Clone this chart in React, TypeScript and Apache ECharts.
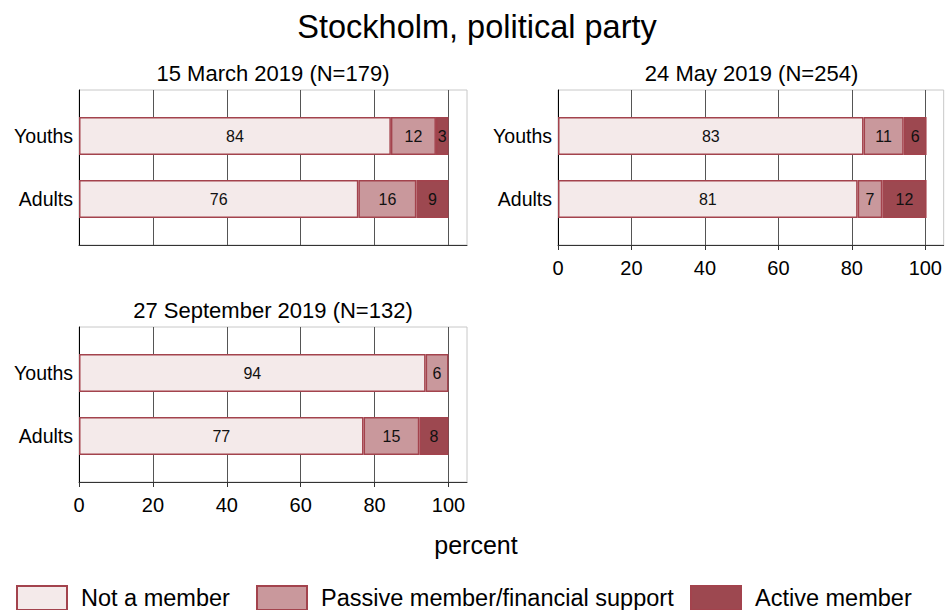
import React, { useEffect, useRef } from "react";
import * as echarts from "echarts";

const mainTitle = "Stockholm, political party";
const panelTitles = ["15 March 2019 (N=179)", "24 May 2019 (N=254)", "27 September 2019 (N=132)"];
const groups = ["Youths", "Adults"];
const levels = ["Not a member", "Passive member/financial support", "Active member"];
const xTicks = [0, 20, 40, 60, 80, 100];
const xTitle = "percent";

// percentages per panel: [Youths, Adults]; labels show rounded values
const notMember = [[84.4, 75.6], [82.9, 81.3], [93.8, 77.0]];
const passive = [[12.2, 15.7], [10.9, 6.7], [6.2, 15.1]];
const active = [[3.4, 8.7], [6.2, 12.0], [0, 7.9]];

const fills = ["#f4eaea", "#c9989c", "#9d4850"];
const border = "#a3434d";
const FONT = "Liberation Sans";

// layout of the three panels (pixel boxes)
const panels = [
  { left: 79, top: 90, width: 388, height: 155, ticks: false },
  { left: 558, top: 90, width: 387, height: 155, ticks: true },
  { left: 79, top: 327, width: 388, height: 155, ticks: true },
];

export default function App() {
  const ref = useRef<HTMLDivElement>(null);
  useEffect(() => {
    document.body.style.margin = "0";
    const chart = echarts.init(ref.current!, null, { renderer: "svg" });
    const valueSets = [notMember, passive, active];

    const grid: any[] = [];
    const xAxis: any[] = [];
    const yAxis: any[] = [];
    const series: any[] = [];
    const title: any[] = [
      {
        text: mainTitle,
        left: 477,
        top: 10,
        padding: 0,
        textAlign: "center",
        textStyle: { fontFamily: FONT, fontSize: 32.5, fontWeight: "normal", color: "#000" },
      },
      {
        text: xTitle,
        left: 476,
        top: 532,
        padding: 0,
        textAlign: "center",
        textStyle: { fontFamily: FONT, fontSize: 25, fontWeight: "normal", color: "#000" },
      },
    ];

    panels.forEach((p, i) => {
      grid.push({
        left: p.left,
        top: p.top,
        width: p.width,
        height: p.height,
        show: true,
        borderColor: "#c8c8c8",
        borderWidth: 1,
        containLabel: false,
      });
      title.push({
        text: panelTitles[i],
        left: p.left + p.width / 2,
        top: p.top - 28,
        padding: 0,
        textAlign: "center",
        textStyle: { fontFamily: FONT, fontSize: 22, fontWeight: "normal", color: "#000" },
      });
    });
    panels.forEach((p) => {
      grid.push({
        left: p.left,
        top: p.top + 14.5,
        width: p.width,
        height: 126,
      });
    });

    panels.forEach((p, i) => {
      xAxis.push({
        type: "value",
        gridIndex: i,
        min: 0,
        max: 105,
        position: "bottom",
        axisLine: { show: true, onZero: false, lineStyle: { color: "#333", width: 1 } },
        axisTick: { show: p.ticks, customValues: xTicks, length: 5, lineStyle: { color: "#333" } },
        axisLabel: {
          show: p.ticks,
          customValues: xTicks,
          fontFamily: FONT,
          fontSize: 20,
          color: "#000",
          margin: 13,
        },
        splitLine: { show: false },
      });
      xAxis.push({
        type: "value",
        gridIndex: i,
        min: 0,
        max: 105,
        interval: 20,
        position: "bottom",
        axisLine: { show: false },
        axisTick: { show: false },
        axisLabel: { show: false },
        splitLine: {
          show: true,
          showMinLine: false,
          showMaxLine: false,
          lineStyle: { color: "#555", width: 1 },
        },
      });
      yAxis.push({
        type: "value",
        gridIndex: i,
        min: 0,
        max: 1,
        position: "left",
        axisLine: { show: true, onZero: false, lineStyle: { color: "#000", width: 1 } },
        axisTick: { show: false },
        axisLabel: { show: false },
        splitLine: { show: false },
      });
    });

    panels.forEach((p, i) => {
      xAxis.push({
        type: "value",
        gridIndex: 3 + i,
        min: 0,
        max: 105,
        show: false,
      });
      yAxis.push({
        type: "category",
        gridIndex: 3 + i,
        data: groups,
        inverse: true,
        axisLine: { show: false },
        axisTick: { show: false },
        axisLabel: { fontFamily: FONT, fontSize: 19.5, color: "#000", margin: 6 },
      });
      levels.forEach((lv, k) => {
        series.push({
          type: "bar",
          name: lv,
          xAxisIndex: 6 + i,
          yAxisIndex: 3 + i,
          stack: "panel" + i,
          barWidth: 38,
          data: valueSets[k][i].map((v) => (v === 0 ? "-" : v)),
          itemStyle: { color: fills[k], borderColor: border, borderWidth: 1.5 },
          label: {
            show: true,
            position: "inside",
            fontFamily: FONT,
            fontSize: 16,
            color: "#111",
            formatter: (d: any) => (d.value ? String(Math.round(d.value)) : ""),
          },
          emphasis: { disabled: true },
        });
      });
    });

    const legendLefts = [16, 256, 690];
    const legend = levels.map((lv, k) => ({
      data: [lv],
      left: legendLefts[k],
      top: 585,
      padding: 0,
      icon: "rect",
      itemWidth: 50,
      itemHeight: 24,
      selectedMode: false,
      textStyle: {
        fontFamily: FONT,
        fontSize: 23.5,
        color: "#000",
        padding: [0, 0, 0, 9],
      },
    }));

    chart.setOption({
      animation: false,
      backgroundColor: "#fff",
      textStyle: { fontFamily: FONT },
      title,
      legend,
      grid,
      xAxis,
      yAxis,
      series,
    });
    return () => chart.dispose();
  }, []);
  return <div ref={ref} style={{ width: 945, height: 610, position: "absolute", left: 0, top: 0 }} />;
}
